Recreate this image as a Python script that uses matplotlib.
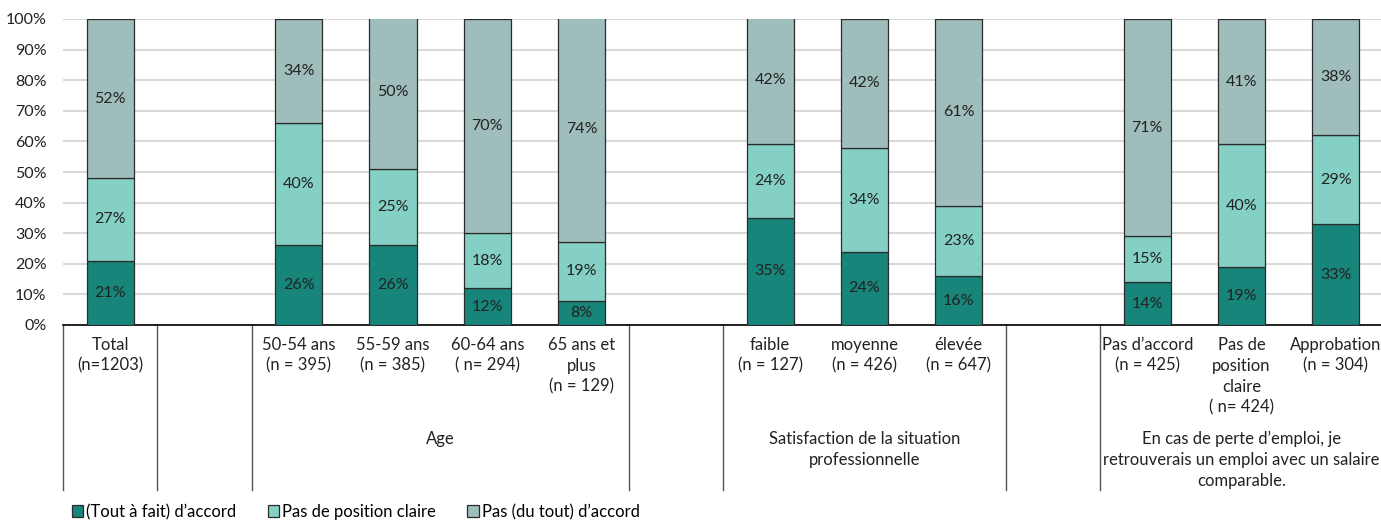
import numpy as np
import matplotlib.pyplot as plt
import matplotlib.transforms as mtransforms

plt.rcParams['font.family'] = ['Lato', 'DejaVu Sans']

# Catégories (les chaînes vides sont des colonnes d'espacement)
categories = [
    "Total\n(n=1203)", "",
    "50-54 ans\n(n = 395)", "55-59 ans\n(n = 385)", "60-64 ans\n( n= 294)", "65 ans et\nplus\n(n = 129)", "",
    "faible\n(n = 127)", "moyenne\n(n = 426)", "élevée\n(n = 647)", "",
    "Pas d’accord\n(n = 425)", "Pas de\nposition\nclaire\n( n= 424)", "Approbation\n(n = 304)",
]
accord = [21, None, 26, 26, 12, 8, None, 35, 24, 16, None, 14, 19, 33]
neutre = [27, None, 40, 25, 18, 19, None, 24, 34, 23, None, 15, 40, 29]
desaccord = [52, None, 34, 50, 70, 74, None, 42, 42, 61, None, 71, 41, 38]

series_names = ["(Tout à fait) d’accord", "Pas de position claire", "Pas (du tout) d’accord"]
colors = ["#17857A", "#84D0C4", "#9EBDBB"]

groups = [
    (3.5, "Age"),
    (8, "Satisfaction de la situation\nprofessionnelle"),
    (12, "En cas de perte d’emploi, je\nretrouverais un emploi avec un salaire\ncomparable."),
]
separators = [-0.5, 0.5, 1.5, 5.5, 6.5, 9.5, 10.5]

fig = plt.figure(figsize=(13.81, 5.2), dpi=100)
ax = fig.add_axes([63 / 1381, 1 - 325 / 520, 1320 / 1381, 306 / 520])

idx = [i for i, v in enumerate(accord) if v is not None]
x = np.array(idx, dtype=float)
bottom = np.zeros(len(idx))
for name, vals, col in zip(series_names, [accord, neutre, desaccord], colors):
    v = np.array([vals[i] for i in idx], dtype=float)
    ax.bar(x, v, width=0.5, bottom=bottom, color=col, edgecolor="#2b2b2b",
           linewidth=0.9, label=name, zorder=3)
    for xi, b, h in zip(x, bottom, v):
        ax.text(xi, b + h / 2, f"{int(h)}%", ha="center", va="center",
                fontsize=11.5, color="#222222", zorder=4)
    bottom += v

ax.set_xlim(-0.5, 13.5)
ax.set_ylim(0, 100)
ax.set_yticks(np.arange(0, 101, 10))
ax.set_yticklabels([f"{t}%" for t in range(0, 101, 10)], fontsize=11.5, color="#222222")
ax.yaxis.grid(True, color="#d9d9d9", linewidth=1.5, zorder=0)
ax.set_axisbelow(True)

ax.set_xticks(range(len(categories)))
ax.set_xticklabels(categories, fontsize=12, color="#222222", linespacing=1.38, va="top")
ax.tick_params(axis="both", length=0)
ax.tick_params(axis="x", pad=8.5)
ax.tick_params(axis="y", pad=12)

for s in ["top", "right", "left"]:
    ax.spines[s].set_visible(False)
ax.spines["bottom"].set_color("black")
ax.spines["bottom"].set_linewidth(1.2)

# Séparateurs verticaux sous l'axe
trans = mtransforms.blended_transform_factory(ax.transData, ax.transAxes)
for sx in separators:
    ax.plot([sx, sx], [0, -0.54], transform=trans, color="#555555",
            linewidth=1.0, clip_on=False)

for gx, label in groups:
    ax.text(gx, -0.345, label, transform=trans, ha="center", va="top",
            fontsize=12, color="#222222", linespacing=1.38)

fig.legend(loc="center left", bbox_to_anchor=(0.052, 1 - 512 / 520), ncol=3, frameon=False,
           fontsize=12, handlelength=0.7, handleheight=0.7, handletextpad=0.15,
           columnspacing=1.9, borderpad=0, borderaxespad=0)

plt.savefig("out.png", dpi=100)
